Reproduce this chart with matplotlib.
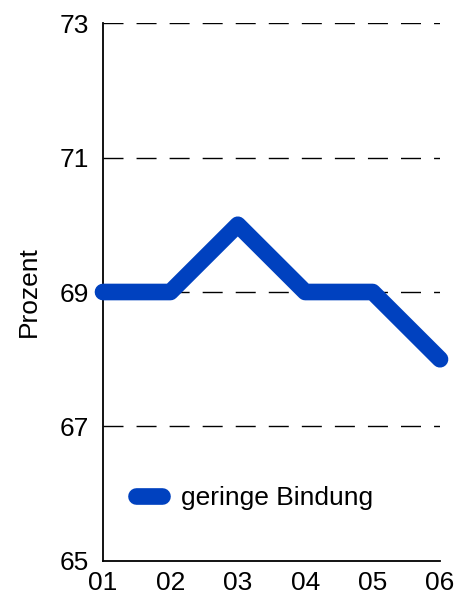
import matplotlib.pyplot as plt

plt.rcParams['font.family'] = ['Liberation Sans', 'DejaVu Sans']
plt.rcParams['lines.scale_dashes'] = False

# Anteil je Jahrgang
jahre = ['01', '02', '03', '04', '05', '06']
geringe_bindung = [69, 69, 70, 69, 69, 68]
y_ticks = [65, 67, 69, 71, 73]

blau = '#0041BF'

fig = plt.figure(figsize=(4.59, 5.98), dpi=100)
ax = fig.add_axes([0.2244, 0.0619, 0.7342, 0.8996])

x = list(range(len(jahre)))
ax.plot(x, geringe_bindung, color=blau, linewidth=12, solid_capstyle='round',
        solid_joinstyle='round', clip_on=False, zorder=3, label='geringe Bindung')

ax.set_xlim(0, len(jahre) - 1)
ax.set_ylim(65, 73)
ax.set_xticks(x)
ax.set_xticklabels(jahre)
ax.set_yticks(y_ticks)
ax.tick_params(axis='both', length=0, labelsize=19, colors='black')
ax.tick_params(axis='x', pad=7)
ax.tick_params(axis='y', pad=10)

for t in y_ticks[1:]:
    ax.axhline(t, color='black', linewidth=1, dashes=(14.4, 9.4), zorder=1)

for s in ['top', 'right']:
    ax.spines[s].set_visible(False)
for s in ['left', 'bottom']:
    ax.spines[s].set_linewidth(1.3)

ax.set_ylabel('Prozent', fontsize=19)
ax.yaxis.set_label_coords(-0.185, 0.5)

ax.legend(loc='center left', bbox_to_anchor=(0.098, 0.117), frameon=False,
          fontsize=19, handlelength=1.0, handletextpad=0.7,
          borderpad=0, borderaxespad=0)

fig.savefig('out.png', dpi=100)
